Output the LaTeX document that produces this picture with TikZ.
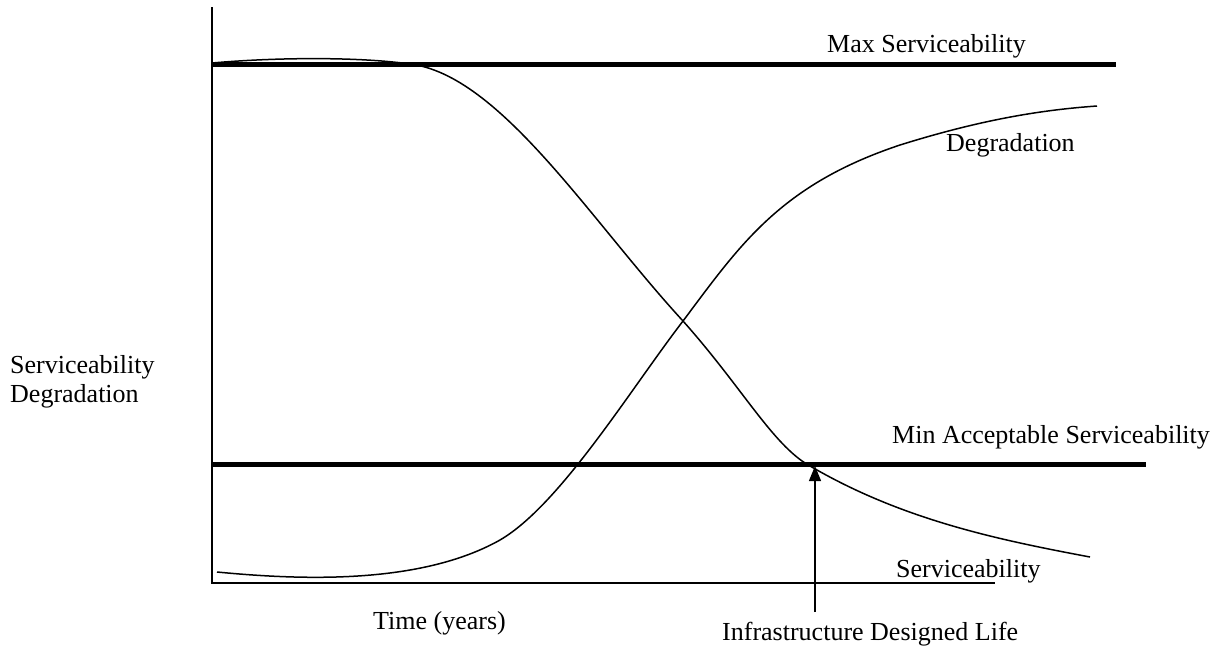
\documentclass[tikz,border=0pt]{standalone}
\usepackage{fontspec}
\setmainfont{Liberation Serif}
\usetikzlibrary{arrows.meta}
\begin{document}
\begin{tikzpicture}[x=1pt,y=-1pt,
  axisline/.style={line width=1.4pt},
  levelline/.style={line width=5pt},
  curveline/.style={line width=1.5pt},
  lbl/.style={inner sep=0pt,anchor=west,font=\fontsize{26}{29.5}\selectfont}]
\useasboundingbox (0,0) rectangle (1230,649);

% axes
\coordinate (ytop) at (212,7);
\coordinate (origin) at (212,583);
\coordinate (xend) at (995,583);
\draw[axisline] (ytop) -- (origin) -- (xend);

% serviceability levels
\coordinate (maxL) at (212,64);
\coordinate (maxR) at (1116,64);
\coordinate (minL) at (212,464);
\coordinate (minR) at (1146,464);
\draw[levelline] (maxL) -- (maxR);
\draw[levelline] (minL) -- (minR);

% points shared by the two curves
\coordinate (cross) at (683,321);
\coordinate (endlife) at (805,463);

% serviceability curve
\draw[curveline] (212,63) .. controls (280,57) and (360,57) .. (410,64)
  .. controls (500,75) and (590,220) .. (cross)
  .. controls (740,385) and (770,440) .. (endlife)
  .. controls (900,520) and (1000,540) .. (1090,557);

% degradation curve
\draw[curveline] (217,572) .. controls (300,580) and (420,585) .. (500,540)
  .. controls (560,505) and (630,390) .. (cross)
  .. controls (740,245) and (780,185) .. (900,145)
  .. controls (980,120) and (1040,110) .. (1097,106);

% designed life marker
\coordinate (lifeBase) at (815,612);
\coordinate (lifeTip) at (815,466);
\draw[line width=1.2pt,-{Triangle[length=15pt,width=12pt]}] (lifeBase) -- (lifeTip);

% labels
\node[lbl] (maxlab) at (827,46) {Max Serviceability};
\node[lbl] (deglab) at (946,145) {Degradation};
\node[lbl] (minlab) at (892,437) {Min Acceptable Serviceability};
\node[lbl] (servlab) at (896,571) {Serviceability};
\node[lbl] (timelab) at (373,623) {Time (years)};
\node[lbl] (lifelab) at (722,634) {Infrastructure Designed Life};
\node[lbl,align=left] (ylab) at (10,382) {Serviceability\\Degradation};
\end{tikzpicture}
\end{document}
